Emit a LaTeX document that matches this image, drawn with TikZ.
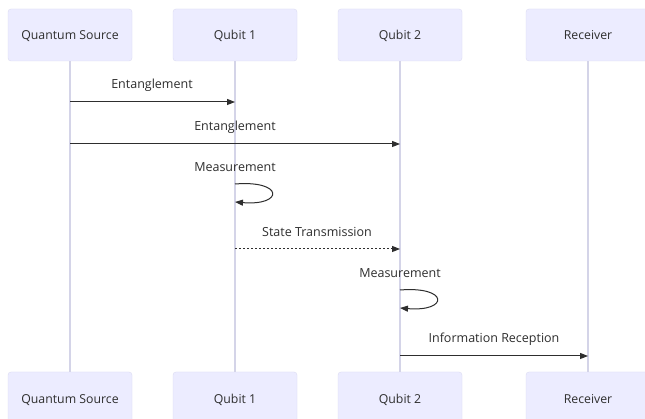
\documentclass[tikz,border=0pt]{standalone}
\usepackage{fontspec}
\setmainfont{Open Sans}
\usetikzlibrary{arrows.meta}
\definecolor{boxfill}{HTML}{ECECFF}
\definecolor{boxline}{HTML}{DCDCF2}
\definecolor{lifeline}{HTML}{D4D4E8}
\definecolor{ink}{HTML}{2E2E2E}
\tikzset{
  actor/.style={draw=boxline, fill=boxfill, rounded corners=3pt, minimum width=124pt, minimum height=52pt, inner sep=0pt, text height=10pt, text depth=0pt, text=ink, font=\fontsize{12.3}{14}\selectfont},
  life/.style={draw=lifeline, line width=1.2pt},
  msg/.style={draw=ink, line width=1pt, -{Triangle[length=8pt,width=6pt]}},
  dmsg/.style={msg, dash pattern=on 2pt off 2pt},
  lbl/.style={text=ink, font=\fontsize{12.5}{14}\selectfont, inner sep=0pt}
}
\begin{document}
\begin{tikzpicture}[x=1pt,y=-1pt]
\useasboundingbox[fill=white] (0,0) rectangle (645,419);
% actors
\node[actor] (qs) at (70,35) {Quantum Source};
\node[actor] (q1) at (235,35) {Qubit 1};
\node[actor] (q2) at (400,35) {Qubit 2};
\node[actor] (rc) at (588,35) {Receiver};
\node[actor] (qsb) at (70,398) {Quantum Source};
\node[actor] (q1b) at (235,398) {Qubit 1};
\node[actor] (q2b) at (400,398) {Qubit 2};
\node[actor] (rcb) at (588,398) {Receiver};
% lifelines
\draw[life] (qs.south) -- (qsb.north);
\draw[life] (q1.south) -- (q1b.north);
\draw[life] (q2.south) -- (q2b.north);
\draw[life] (rc.south) -- (rcb.north);
% message anchor points
\coordinate (a1) at (70,102);  \coordinate (b1) at (235,102);
\coordinate (a2) at (70,144);  \coordinate (b2) at (400,144);
\coordinate (s1) at (235,184); \coordinate (t1) at (235,202);
\coordinate (a3) at (235,249); \coordinate (b3) at (400,249);
\coordinate (s2) at (400,290); \coordinate (t2) at (400,308);
\coordinate (a4) at (400,356); \coordinate (b4) at (588,356);
% messages
\draw[msg] (a1) -- (b1);
\node[lbl] (l1) at (152,85) {Entanglement};
\draw[msg] (a2) -- (b2);
\node[lbl] (l2) at (235,127) {Entanglement};
\draw[msg] (s1) .. controls (284,180) and (284,206) .. (t1);
\node[lbl] (l3) at (235,167) {Measurement};
\draw[dmsg] (a3) -- (b3);
\node[lbl] (l4) at (317,232) {State Transmission};
\draw[msg] (s2) .. controls (449,286) and (449,312) .. (t2);
\node[lbl] (l5) at (400,273) {Measurement};
\draw[msg] (a4) -- (b4);
\node[lbl] (l6) at (494,339) {Information Reception};
\end{tikzpicture}
\end{document}
